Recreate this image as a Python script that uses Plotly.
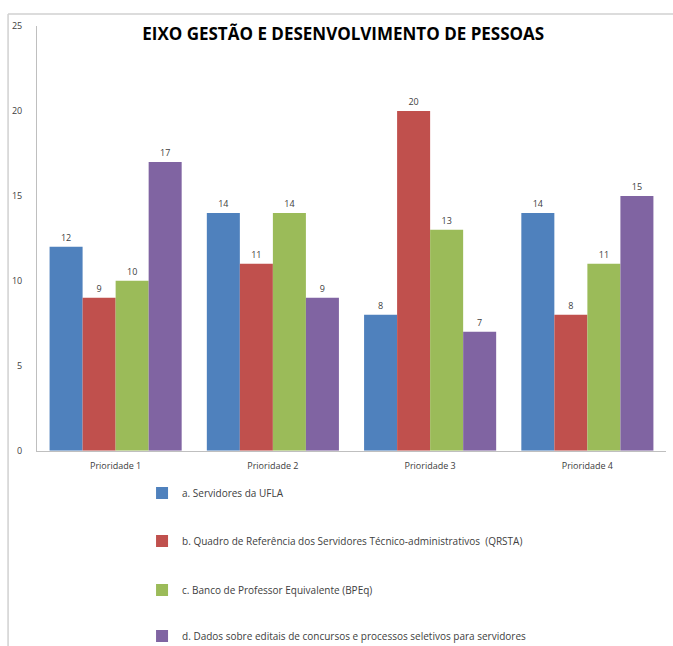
import plotly.graph_objects as go

categories = ["Prioridade 1", "Prioridade 2", "Prioridade 3", "Prioridade 4"]
series_names = [
    "a. Servidores da UFLA",
    "b. Quadro de Referência dos Servidores Técnico-administrativos  (QRSTA)",
    "c. Banco de Professor Equivalente (BPEq)",
    "d. Dados sobre editais de concursos e processos seletivos para servidores",
]
vals_a = [12, 14, 8, 14]
vals_b = [9, 11, 20, 8]
vals_c = [10, 14, 13, 11]
vals_d = [17, 9, 7, 15]
colors = ["#4F81BD", "#C0504D", "#9BBB59", "#8064A2"]

legend_ids = ["legend", "legend2", "legend3", "legend4"]
legend_y = [0.2368, 0.1625, 0.0867, 0.0155]

fig = go.Figure()
for i, (name, vals) in enumerate(zip(series_names, [vals_a, vals_b, vals_c, vals_d])):
    fig.add_trace(go.Bar(
        x=categories, y=vals, name=name,
        marker=dict(color=colors[i], line=dict(width=0)),
        text=[str(v) for v in vals], textposition="outside",
        textfont=dict(size=9, color="#404040", family="Open Sans"),
        cliponaxis=False, legend=legend_ids[i],
    ))

legend_common = dict(orientation="v", x=0.167, xanchor="left", yanchor="middle",
                     xref="paper", yref="container",
                     font=dict(size=10, family="Open Sans", color="#404040"),
                     itemwidth=30, bgcolor="rgba(0,0,0,0)")

fig.update_layout(
    width=673, height=646,
    margin=dict(l=37, r=7, t=26, b=193),
    paper_bgcolor="white", plot_bgcolor="white",
    barmode="group", bargap=0.16, bargroupgap=0,
    title=dict(text="<b>EIXO GESTÃO E DESENVOLVIMENTO DE PESSOAS</b>",
               x=0.51, xanchor="center", y=0.948, yanchor="middle",
               font=dict(size=17, family="Open Sans", color="black")),
    showlegend=True,
    legend=dict(y=legend_y[0], **legend_common),
    legend2=dict(y=legend_y[1], **legend_common),
    legend3=dict(y=legend_y[2], **legend_common),
    legend4=dict(y=legend_y[3], **legend_common),
    font=dict(family="Open Sans", color="#404040"),
)
fig.update_xaxes(showgrid=False, showline=True, linecolor="#BFBFBF", linewidth=1,
                 tickfont=dict(size=9), ticks="", range=[-0.5, 3.5], ticklabelstandoff=6)
fig.update_yaxes(range=[0, 25], tickvals=[0, 5, 10, 15, 20, 25], showgrid=False,
                 showline=True, linecolor="#BFBFBF", linewidth=1, ticks="",
                 tickfont=dict(size=9), ticklabelstandoff=12, zeroline=False)

fig.add_shape(type="line", xref="paper", yref="paper", x0=-0.046, x1=1.02, y0=1.028, y1=1.028,
              line=dict(color="#D0D0D0", width=1.5))
fig.add_shape(type="line", xref="paper", yref="paper", x0=-0.046, x1=-0.046, y0=1.028, y1=-0.46,
              line=dict(color="#D0D0D0", width=1.5))

fig.write_html("out.html")
